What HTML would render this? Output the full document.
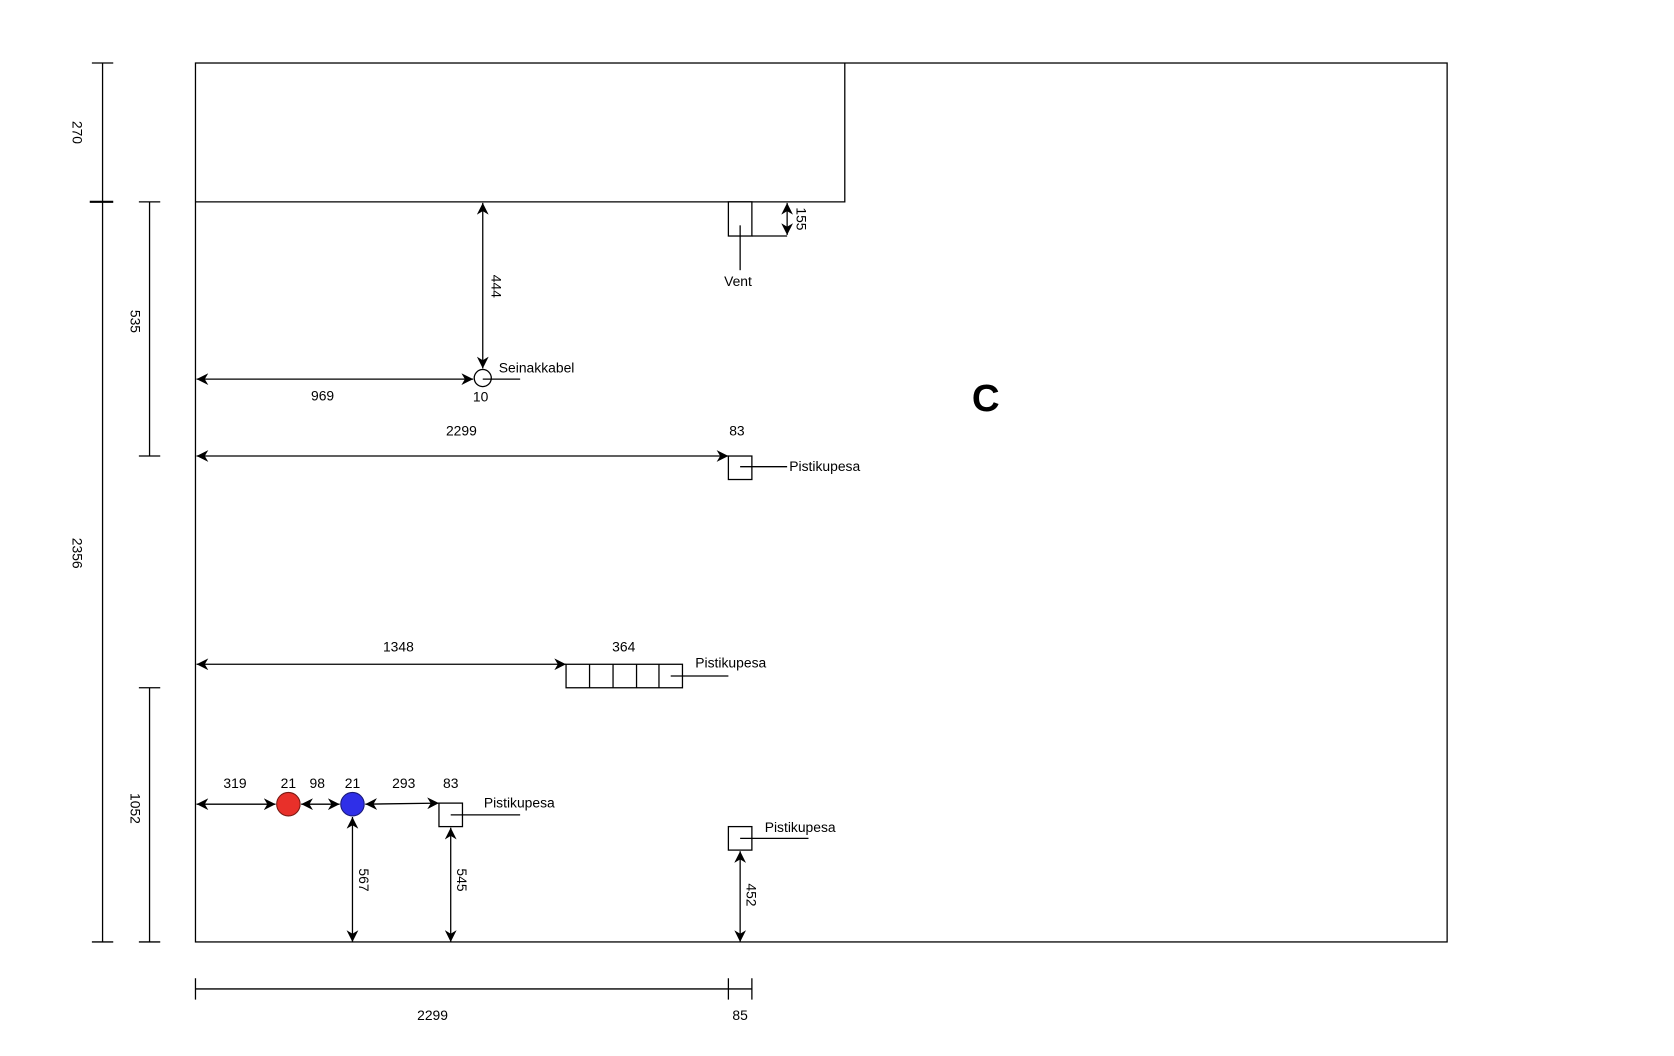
<!DOCTYPE html>
<html><head><meta charset="utf-8"><style>html,body{margin:0;padding:0;background:#fff}svg{display:block}</style></head>
<body>
<svg width="1674" height="1056" viewBox="0 0 1567.4 988.8" xmlns="http://www.w3.org/2000/svg" font-family="Liberation Sans, Arial, sans-serif" font-size="13">
<defs>
<marker id="a" viewBox="0 0 10 10" refX="10" refY="5" markerWidth="11" markerHeight="11" orient="auto-start-reverse" markerUnits="userSpaceOnUse">
<path d="M0,0 L10,5 L0,10 L3,5 Z" fill="#000"/>
</marker>
</defs>
<g stroke="#000" stroke-width="1.2" fill="none">
<rect x="183" y="59" width="1172" height="823"/>
<polyline points="183,189 791,189 791,59"/>
<line x1="96" y1="59" x2="96" y2="882"/>
<line x1="86" y1="59" x2="106" y2="59"/>
<line x1="84" y1="189" x2="106" y2="189" stroke-width="2"/>
<line x1="86" y1="882" x2="106" y2="882"/>
<line x1="140" y1="189" x2="140" y2="427"/>
<line x1="130" y1="189" x2="150" y2="189"/>
<line x1="130" y1="427" x2="150" y2="427"/>
<line x1="140" y1="644" x2="140" y2="882"/>
<line x1="130" y1="644" x2="150" y2="644"/>
<line x1="130" y1="882" x2="150" y2="882"/>
<rect x="682" y="189" width="22" height="32"/>
<line x1="693" y1="211" x2="693" y2="253"/>
<line x1="704" y1="221" x2="737" y2="221"/>
<line x1="737" y1="190" x2="737" y2="220" marker-start="url(#a)" marker-end="url(#a)"/>
<line x1="452" y1="190" x2="452" y2="345" marker-start="url(#a)" marker-end="url(#a)"/>
<circle cx="452" cy="354" r="8"/>
<line x1="452" y1="355" x2="487" y2="355"/>
<line x1="184" y1="355" x2="443" y2="355" marker-start="url(#a)" marker-end="url(#a)"/>
<line x1="184" y1="427" x2="682" y2="427" marker-start="url(#a)" marker-end="url(#a)"/>
<rect x="682" y="427" width="22" height="22"/>
<line x1="693" y1="437" x2="737" y2="437"/>
<line x1="184" y1="622" x2="530" y2="622" marker-start="url(#a)" marker-end="url(#a)"/>
<rect x="530" y="622" width="109" height="22"/>
<line x1="552" y1="622" x2="552" y2="644"/>
<line x1="574" y1="622" x2="574" y2="644"/>
<line x1="596" y1="622" x2="596" y2="644"/>
<line x1="617" y1="622" x2="617" y2="644"/>
<line x1="628" y1="633" x2="682" y2="633"/>
<line x1="184" y1="753" x2="258" y2="753" marker-start="url(#a)" marker-end="url(#a)"/>
<line x1="282" y1="753" x2="318" y2="753" marker-start="url(#a)" marker-end="url(#a)"/>
<line x1="342" y1="753" x2="411" y2="752" marker-start="url(#a)" marker-end="url(#a)"/>
<rect x="411" y="752" width="22" height="22"/>
<line x1="422" y1="763" x2="487" y2="763"/>
<line x1="330" y1="765" x2="330" y2="882" marker-start="url(#a)" marker-end="url(#a)"/>
<line x1="422" y1="775" x2="422" y2="882" marker-start="url(#a)" marker-end="url(#a)"/>
<rect x="682" y="774" width="22" height="22"/>
<line x1="693" y1="785" x2="757" y2="785"/>
<line x1="693" y1="797" x2="693" y2="882" marker-start="url(#a)" marker-end="url(#a)"/>
<line x1="183" y1="926" x2="704" y2="926"/>
<line x1="183" y1="916" x2="183" y2="936"/>
<line x1="682" y1="916" x2="682" y2="936"/>
<line x1="704" y1="916" x2="704" y2="936"/>
</g>
<circle cx="270" cy="753" r="11" fill="#e8302a" stroke="#7a1a14" stroke-width="1"/>
<circle cx="330" cy="753" r="11" fill="#2f2fe8" stroke="#1a1a7a" stroke-width="1"/>
<g fill="#000" text-anchor="middle">
<text transform="translate(68,124) rotate(90)">270</text>
<text transform="translate(68,518) rotate(90)">2356</text>
<text transform="translate(122,301) rotate(90)">535</text>
<text transform="translate(122,757) rotate(90)">1052</text>
<text transform="translate(746,205) rotate(90)">155</text>
<text transform="translate(460,268) rotate(90)">444</text>
<text transform="translate(336,824) rotate(90)">567</text>
<text transform="translate(428,824) rotate(90)">545</text>
<text transform="translate(699,838) rotate(90)">452</text>
<text x="691" y="268">Vent</text>
<text x="450" y="376">10</text>
<text x="302" y="375">969</text>
<text x="432" y="408">2299</text>
<text x="690" y="408">83</text>
<text x="373" y="610">1348</text>
<text x="584" y="610">364</text>
<text x="220" y="738">319</text>
<text x="270" y="738">21</text>
<text x="297" y="738">98</text>
<text x="330" y="738">21</text>
<text x="378" y="738">293</text>
<text x="422" y="738">83</text>
<text x="405" y="955">2299</text>
<text x="693" y="955">85</text>
<text x="923" y="385" font-size="36" font-weight="bold">C</text>
</g>
<g fill="#000">
<text x="467" y="349">Seinakkabel</text>
<text x="739" y="441">Pistikupesa</text>
<text x="651" y="625">Pistikupesa</text>
<text x="453" y="756">Pistikupesa</text>
<text x="716" y="779">Pistikupesa</text>
</g>
</svg>
</body></html>
